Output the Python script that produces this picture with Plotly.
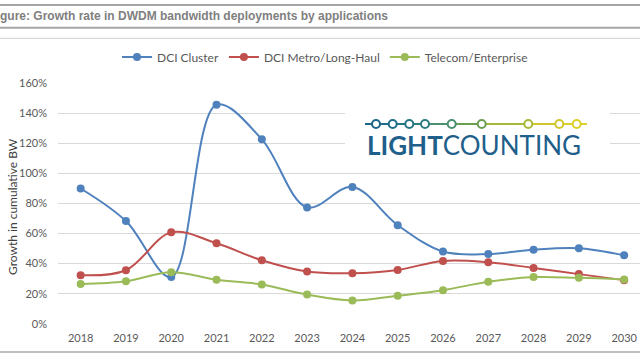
import plotly.graph_objects as go

years = [2018, 2019, 2020, 2021, 2022, 2023, 2024, 2025, 2026, 2027, 2028, 2029, 2030]
dci_cluster = [0.90, 0.683, 0.31, 1.457, 1.227, 0.774, 0.91, 0.656, 0.48, 0.464, 0.493, 0.502, 0.455]
dci_metro = [0.323, 0.356, 0.608, 0.535, 0.422, 0.347, 0.336, 0.358, 0.418, 0.409, 0.371, 0.33, 0.29]
telecom = [0.265, 0.283, 0.343, 0.292, 0.261, 0.194, 0.155, 0.186, 0.223, 0.279, 0.31, 0.305, 0.294]

series_names = ["DCI Cluster", "DCI Metro/Long-Haul", "Telecom/Enterprise"]
series_values = [dci_cluster, dci_metro, telecom]
series_colors = ["#4F81BD", "#C0504D", "#9BBB59"]

y_ticks = [0, 0.2, 0.4, 0.6, 0.8, 1.0, 1.2, 1.4, 1.6]

W, H = 640, 360
L, R, T, B = 58, 0, 83, 36

fig = go.Figure()
for name, vals, col in zip(series_names, series_values, series_colors):
    fig.add_trace(go.Scatter(
        x=years, y=vals, name=name, mode="lines+markers",
        line=dict(color=col, width=2, shape="spline", smoothing=1),
        marker=dict(color=col, size=8),
    ))

def px(x):
    return (x - L) / (W - L - R)

def py(y):
    return (H - B - y) / (H - T - B)

shapes = []
# frame lines (page decoration)
for yy, col, w in [(5, "#A6A6A6", 2), (27.7, "#A6A6A6", 2), (38.3, "#D0D0D0", 1), (352, "#BFBFBF", 2)]:
    shapes.append(dict(type="line", xref="paper", yref="paper", x0=px(0), x1=px(640),
                       y0=py(yy), y1=py(yy), line=dict(color=col, width=w), layer="above"))
# white box behind logo
shapes.append(dict(type="rect", xref="paper", yref="paper", x0=px(345), x1=px(610),
                   y0=py(100), y1=py(162), fillcolor="white", line=dict(width=0), layer="above"))
# logo chain
circle_x = [376, 392.7, 409.3, 425, 451.7, 481.7, 528.3, 559.3, 576.7]
circle_c = ["#1D6688", "#1F6D88", "#267585", "#2E7D80", "#4A8F6E", "#6A9F52", "#A7B93A", "#CFC72C", "#DDD02A"]
seg_x = [365] + circle_x + [587]
seg_c = [circle_c[0]] + circle_c + [circle_c[-1]]
cy = 124
for i in range(len(seg_x) - 1):
    shapes.append(dict(type="line", xref="paper", yref="paper",
                       x0=px(seg_x[i]), x1=px(seg_x[i + 1]), y0=py(cy), y1=py(cy),
                       line=dict(color=seg_c[i + 1] if i < len(seg_x) - 2 else seg_c[i], width=2), layer="above"))
r = 4
for x, c in zip(circle_x, circle_c):
    shapes.append(dict(type="circle", xref="paper", yref="paper",
                       x0=px(x - r), x1=px(x + r), y0=py(cy + r), y1=py(cy - r),
                       fillcolor="white", line=dict(color=c, width=2), layer="above"))

annotations = [
    dict(text="gure: Growth rate in DWDM bandwidth deployments by applications",
         xref="paper", yref="paper", x=px(-2), y=py(16), xanchor="left", yanchor="middle",
         showarrow=False, font=dict(family="Liberation Sans", size=12, color="#808080", weight="bold")),
    dict(text="<b>LIGHT</b>COUNTING", xref="paper", yref="paper", x=px(474), y=py(145),
         xanchor="center", yanchor="middle", showarrow=False,
         font=dict(family="Lato", size=26, color="#1F5F8B")),
    dict(text="Growth in cumulative BW", xref="paper", yref="paper", x=px(12), y=py(207),
         xanchor="center", yanchor="middle", textangle=-90, showarrow=False,
         font=dict(family="Lato", size=12, color="#404040")),
]

fig.update_layout(
    width=W, height=H,
    margin=dict(l=L, r=R, t=T, b=B),
    paper_bgcolor="white", plot_bgcolor="white",
    font=dict(family="Lato", size=11, color="#595959"),
    xaxis=dict(range=[2017.5, 2030.35], tickmode="array", tickvals=years,
               ticktext=[str(y) for y in years], showgrid=False, zeroline=False,
               showline=False, ticks="", ticklabelstandoff=6, fixedrange=True),
    yaxis=dict(range=[-0.002, 1.602], tickmode="array", tickvals=y_ticks,
               tickformat=".0%", showgrid=True, gridcolor="#D9D9D9", gridwidth=1,
               zeroline=False, showline=False, ticks="", ticklabelstandoff=10),
    legend=dict(orientation="h", x=px(325), xanchor="center", y=py(57), yanchor="middle",
                font=dict(family="Lato", size=12, color="#595959"), bgcolor="rgba(0,0,0,0)"),
    shapes=shapes,
    annotations=annotations,
    showlegend=True,
)

fig.write_html("out.html", config={"displayModeBar": False},
               post_script="document.body.style.margin='0';")
